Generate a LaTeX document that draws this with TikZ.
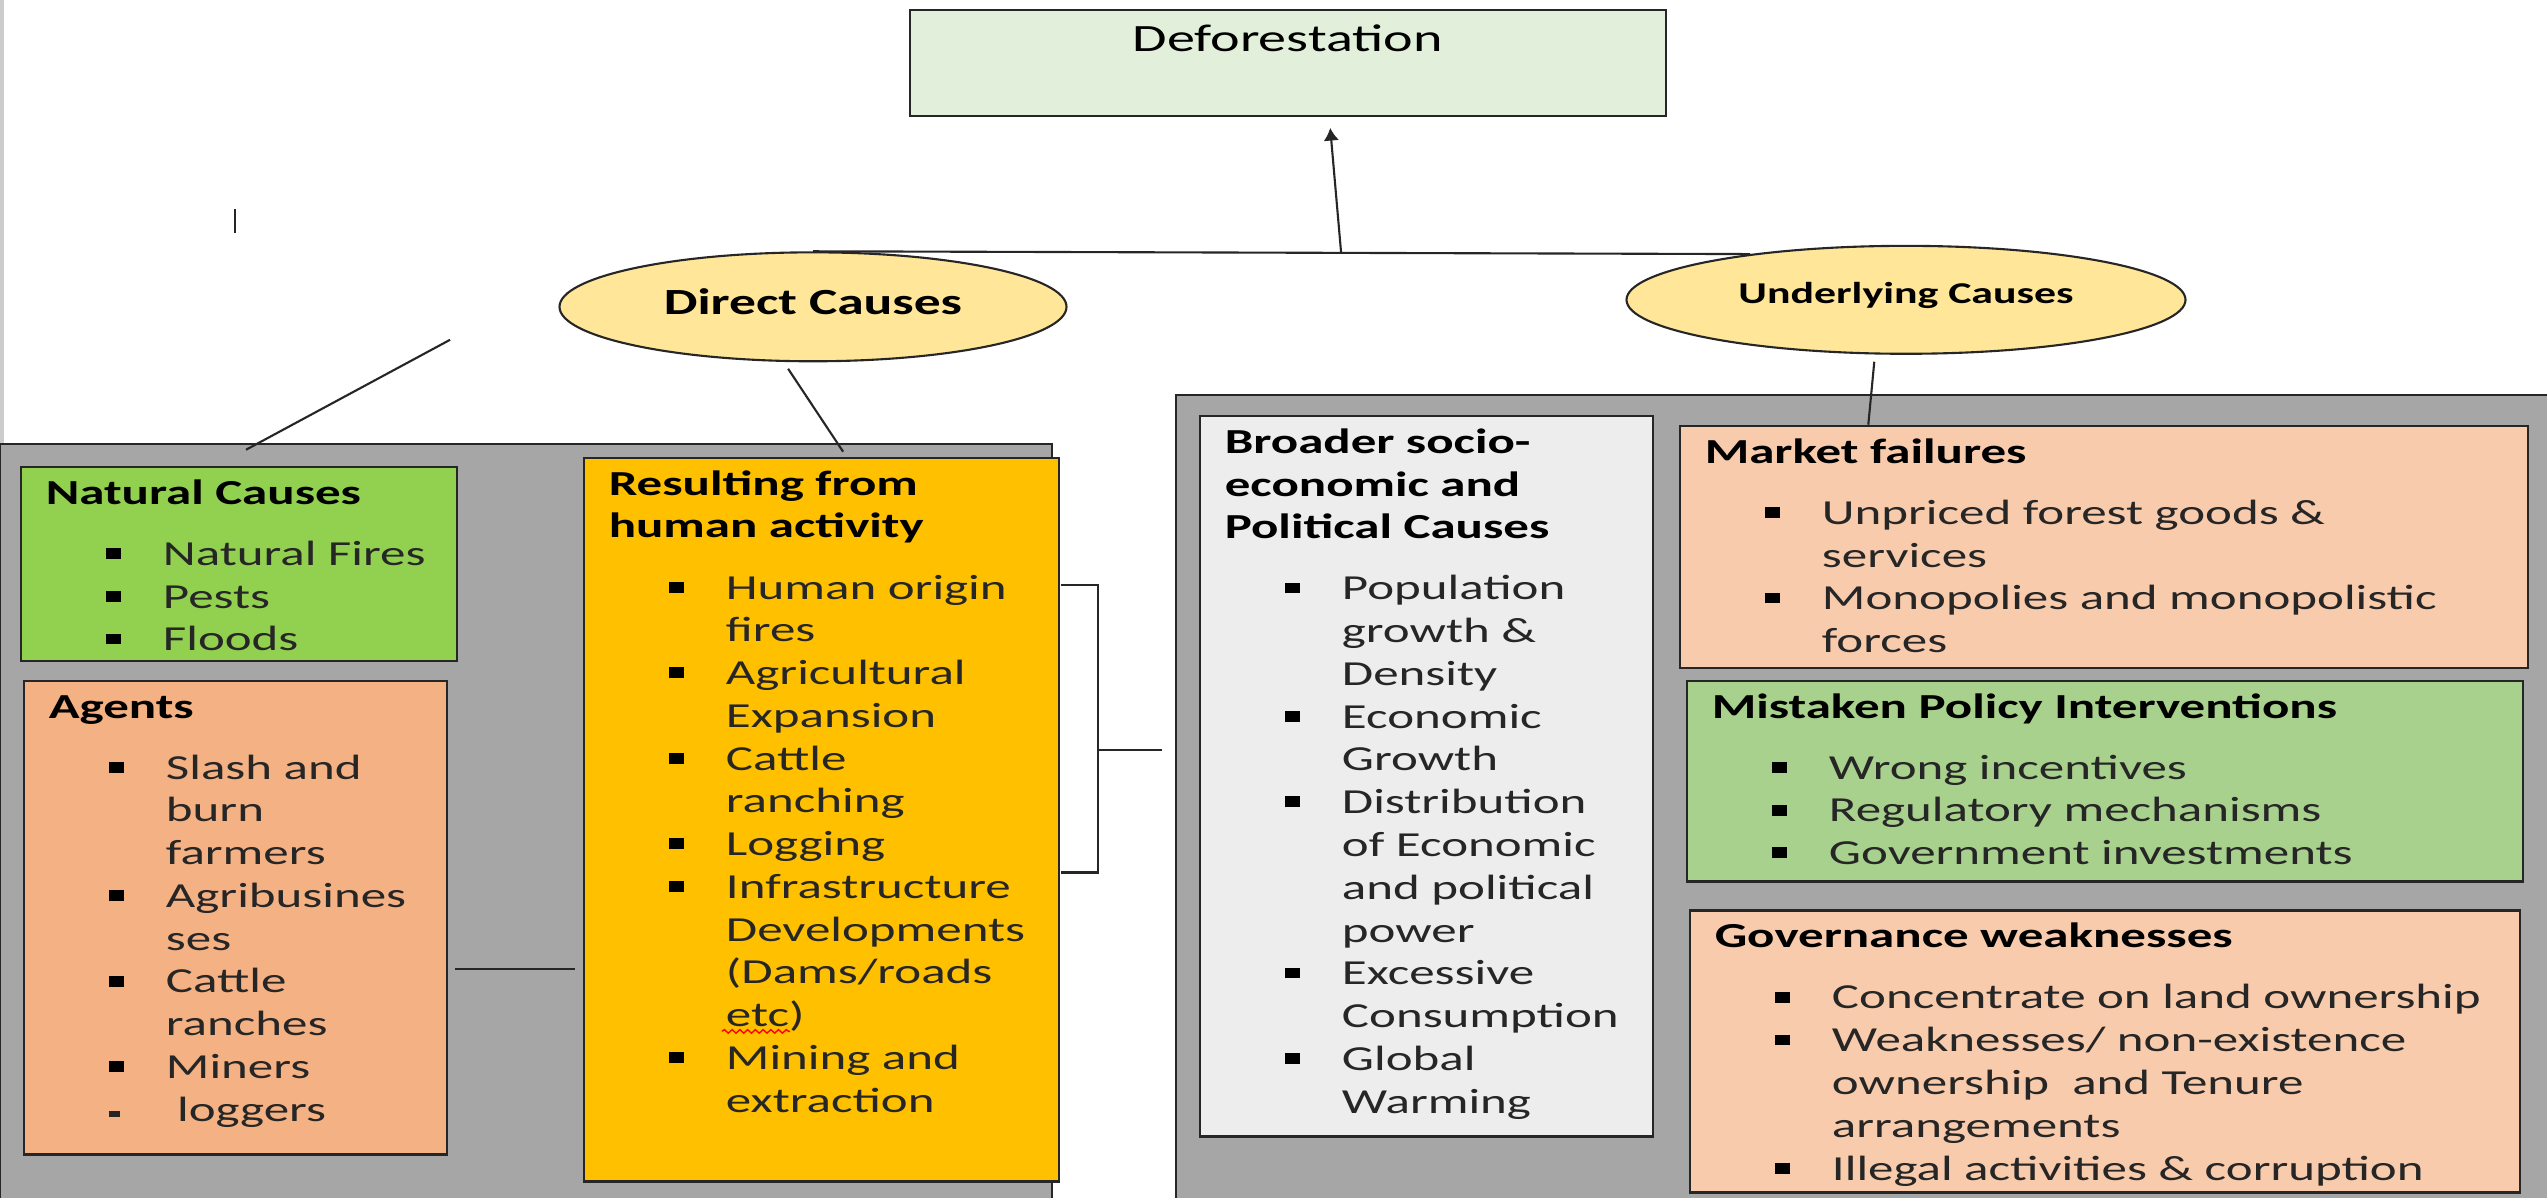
\documentclass[tikz,border=0pt]{standalone}
\usepackage{fontspec}
\setmainfont{Carlito}
\usetikzlibrary{shapes.geometric, arrows.meta, calc, decorations.pathmorphing}

\definecolor{deforgreen}{HTML}{E2EFDA}
\definecolor{ovalyellow}{HTML}{FFE699}
\definecolor{panelgray}{HTML}{A6A6A6}
\definecolor{naturalgreen}{HTML}{92D050}
\definecolor{agentorange}{HTML}{F4B183}
\definecolor{humangold}{HTML}{FFC000}
\definecolor{broadgray}{HTML}{EDEDED}
\definecolor{marketpeach}{HTML}{F8CBAD}
\definecolor{policygreen}{HTML}{A9D18E}
\definecolor{itemtext}{HTML}{262626}

\newlength\pxx \setlength\pxx{0.0068966cm}
\newlength\pxy \setlength\pxy{0.01cm}

\newcommand{\bul}{{\color{black}\rule[1.8pt]{2.9pt}{3.1pt}}}
\newcommand{\itm}{\par\hangindent=23pt\hangafter=1\noindent\makebox[23pt][l]{\hspace{11.8pt}\bul}}
\newcommand{\itmsmall}{\par\hangindent=23pt\hangafter=1\noindent\makebox[23pt][l]{\hspace{11.8pt}\rule[1.1pt]{2.1pt}{1.7pt}}\hspace{2.2pt}}
\newcommand{\hd}[1]{{\color{black}\bfseries\rule{0pt}{10.6pt}#1\par}\vspace{5.2pt}}
\newcommand{\boxbody}[3]{\parbox[t][#2\pxy][t]{#1\pxx}{\fontsize{10}{12.17}\selectfont\color{itemtext}
  \parindent=0pt\parskip=0pt\leftskip=4.9pt\rightskip=-3cm plus 1fil\relax #3}}

\tikzset{
  panel/.style={draw=black!85, line width=0.7pt, fill=panelgray},
  causebox/.style={draw=black!85, line width=0.7pt, inner sep=0pt, anchor=north west},
  causeoval/.style={ellipse, draw=black!85, line width=0.6pt, fill=ovalyellow, inner sep=0pt},
  link/.style={draw=black!85, line width=0.6pt},
}

\begin{document}
\begin{tikzpicture}[x=0.0068966cm, y=-0.01cm, xscale=1.45,
  every node/.append style={transform shape}]
\useasboundingbox (0,0) rectangle (2547,1198);

% ---- page edge and cursor mark
\draw[black!20, line width=1pt] (2,0) -- (2,444);
\draw[link] (235,209) -- (235,233);

% ---- grey panels
\draw[panel] (0,444) rectangle (1052,1210);
\draw[panel] (1176,395) rectangle (2560,1210);

% ---- Deforestation
\node[causebox, fill=deforgreen] (defor) at (908,9)
  {\parbox[t][106\pxy][t]{756\pxx}{\centering\fontsize{11}{13}\selectfont\rule{0pt}{41\pxy}Deforestation}};

% ---- ovals
\node[causeoval, minimum width=507*\pxx, minimum height=109*\pxy, text depth=3pt,
  font=\bfseries\fontsize{10.5}{12}\selectfont] (dc) at (813,307) {Direct Causes};
\node[causeoval, minimum width=559*\pxx, minimum height=108*\pxy, text depth=4pt,
  font=\bfseries\fontsize{8.6}{10}\selectfont] (uc) at (1906,300) {Underlying Causes};

% ---- direct causes
\node[causebox, fill=naturalgreen] (nat) at (19,466)
  {\boxbody{436}{194}{\hd{Natural Causes}\itm Natural Fires\itm Pests\itm Floods}};
\node[causebox, fill=agentorange] (agents) at (22,680)
  {\boxbody{423}{474}{\hd{Agents}\itm Slash and\\burn\\farmers\itm Agribusines\\ses\itm Cattle\\ranches\itm Miners\itmsmall loggers}};
\node[causebox, fill=humangold] (human) at (582,457)
  {\boxbody{475}{724}{\hd{Resulting from\\human activity}\itm Human origin\\fires\itm Agricultural\\Expansion\itm Cattle\\ranching\itm Logging\itm Infrastructure\\Developments\\(Dams/roads\\etc)\itm Mining and\\extraction}};

% ---- underlying causes
\node[causebox, fill=broadgray] (broad) at (1198,415)
  {\boxbody{453}{721}{\hd{Broader socio-\\economic and\\Political Causes}\itm Population\\growth \&\\Density\itm Economic\\Growth\itm Distribution\\of Economic\\and political\\power\itm Excessive\\Consumption\itm Global\\Warming}};
\node[causebox, fill=marketpeach] (market) at (1678,425)
  {\boxbody{848}{242}{\hd{Market failures}\itm Unpriced forest goods \&\\services\itm Monopolies and monopolistic\\forces}};
\node[causebox, fill=policygreen] (policy) at (1685,680)
  {\boxbody{836}{201}{\hd{Mistaken Policy Interventions}\itm Wrong incentives\itm Regulatory mechanisms\itm Government investments}};
\node[causebox, fill=marketpeach] (govern) at (1688,910)
  {\boxbody{830}{282}{\hd{Governance weaknesses}\itm Concentrate on land ownership\itm Weaknesses/ non-existence\\ownership\ \ and Tenure\\arrangements\itm Illegal activities \& corruption}};

% ---- connectors
\coordinate (join) at (1341,254);
\coordinate (tip) at (1330,128);
\coordinate (dcleft) at (450,340);
\coordinate (natpanel) at (246,450);
\coordinate (dcfoot) at (788,369);
\coordinate (humantop) at (843,452);
\coordinate (ucfoot) at (1874,362);
\coordinate (mkttop) at (1868,425);
\coordinate (brtop) at (1098,585);
\coordinate (brbot) at (1098,873);
\coordinate (brmid) at (1098,750);
\coordinate (broadlink) at (1162,750);
\coordinate (aglink) at (455,970);

\draw[link] (dc.north) -- (uc.157);
\draw[link, -{Latex[length=3.6pt, width=4.4pt]}] (join) -- (tip);
\draw[link] (dcleft) -- (natpanel);
\draw[link] (dcfoot) -- (humantop);
\draw[link] (ucfoot) -- (market.north -| mkttop);
\draw[link] (human.east |- brtop) -- (brtop) -- (brbot) -- (human.east |- brbot);
\draw[link] (brmid) -- (broadlink);
\draw[link] (aglink) -- ($(human.west |- aglink)+(-7,0)$);

% ---- spelling mark under etc
\draw[red, line width=0.4pt, decorate, decoration={snake, amplitude=0.5pt, segment length=2.2pt}]
  (722,1032) -- (790,1032);
\end{tikzpicture}
\end{document}
